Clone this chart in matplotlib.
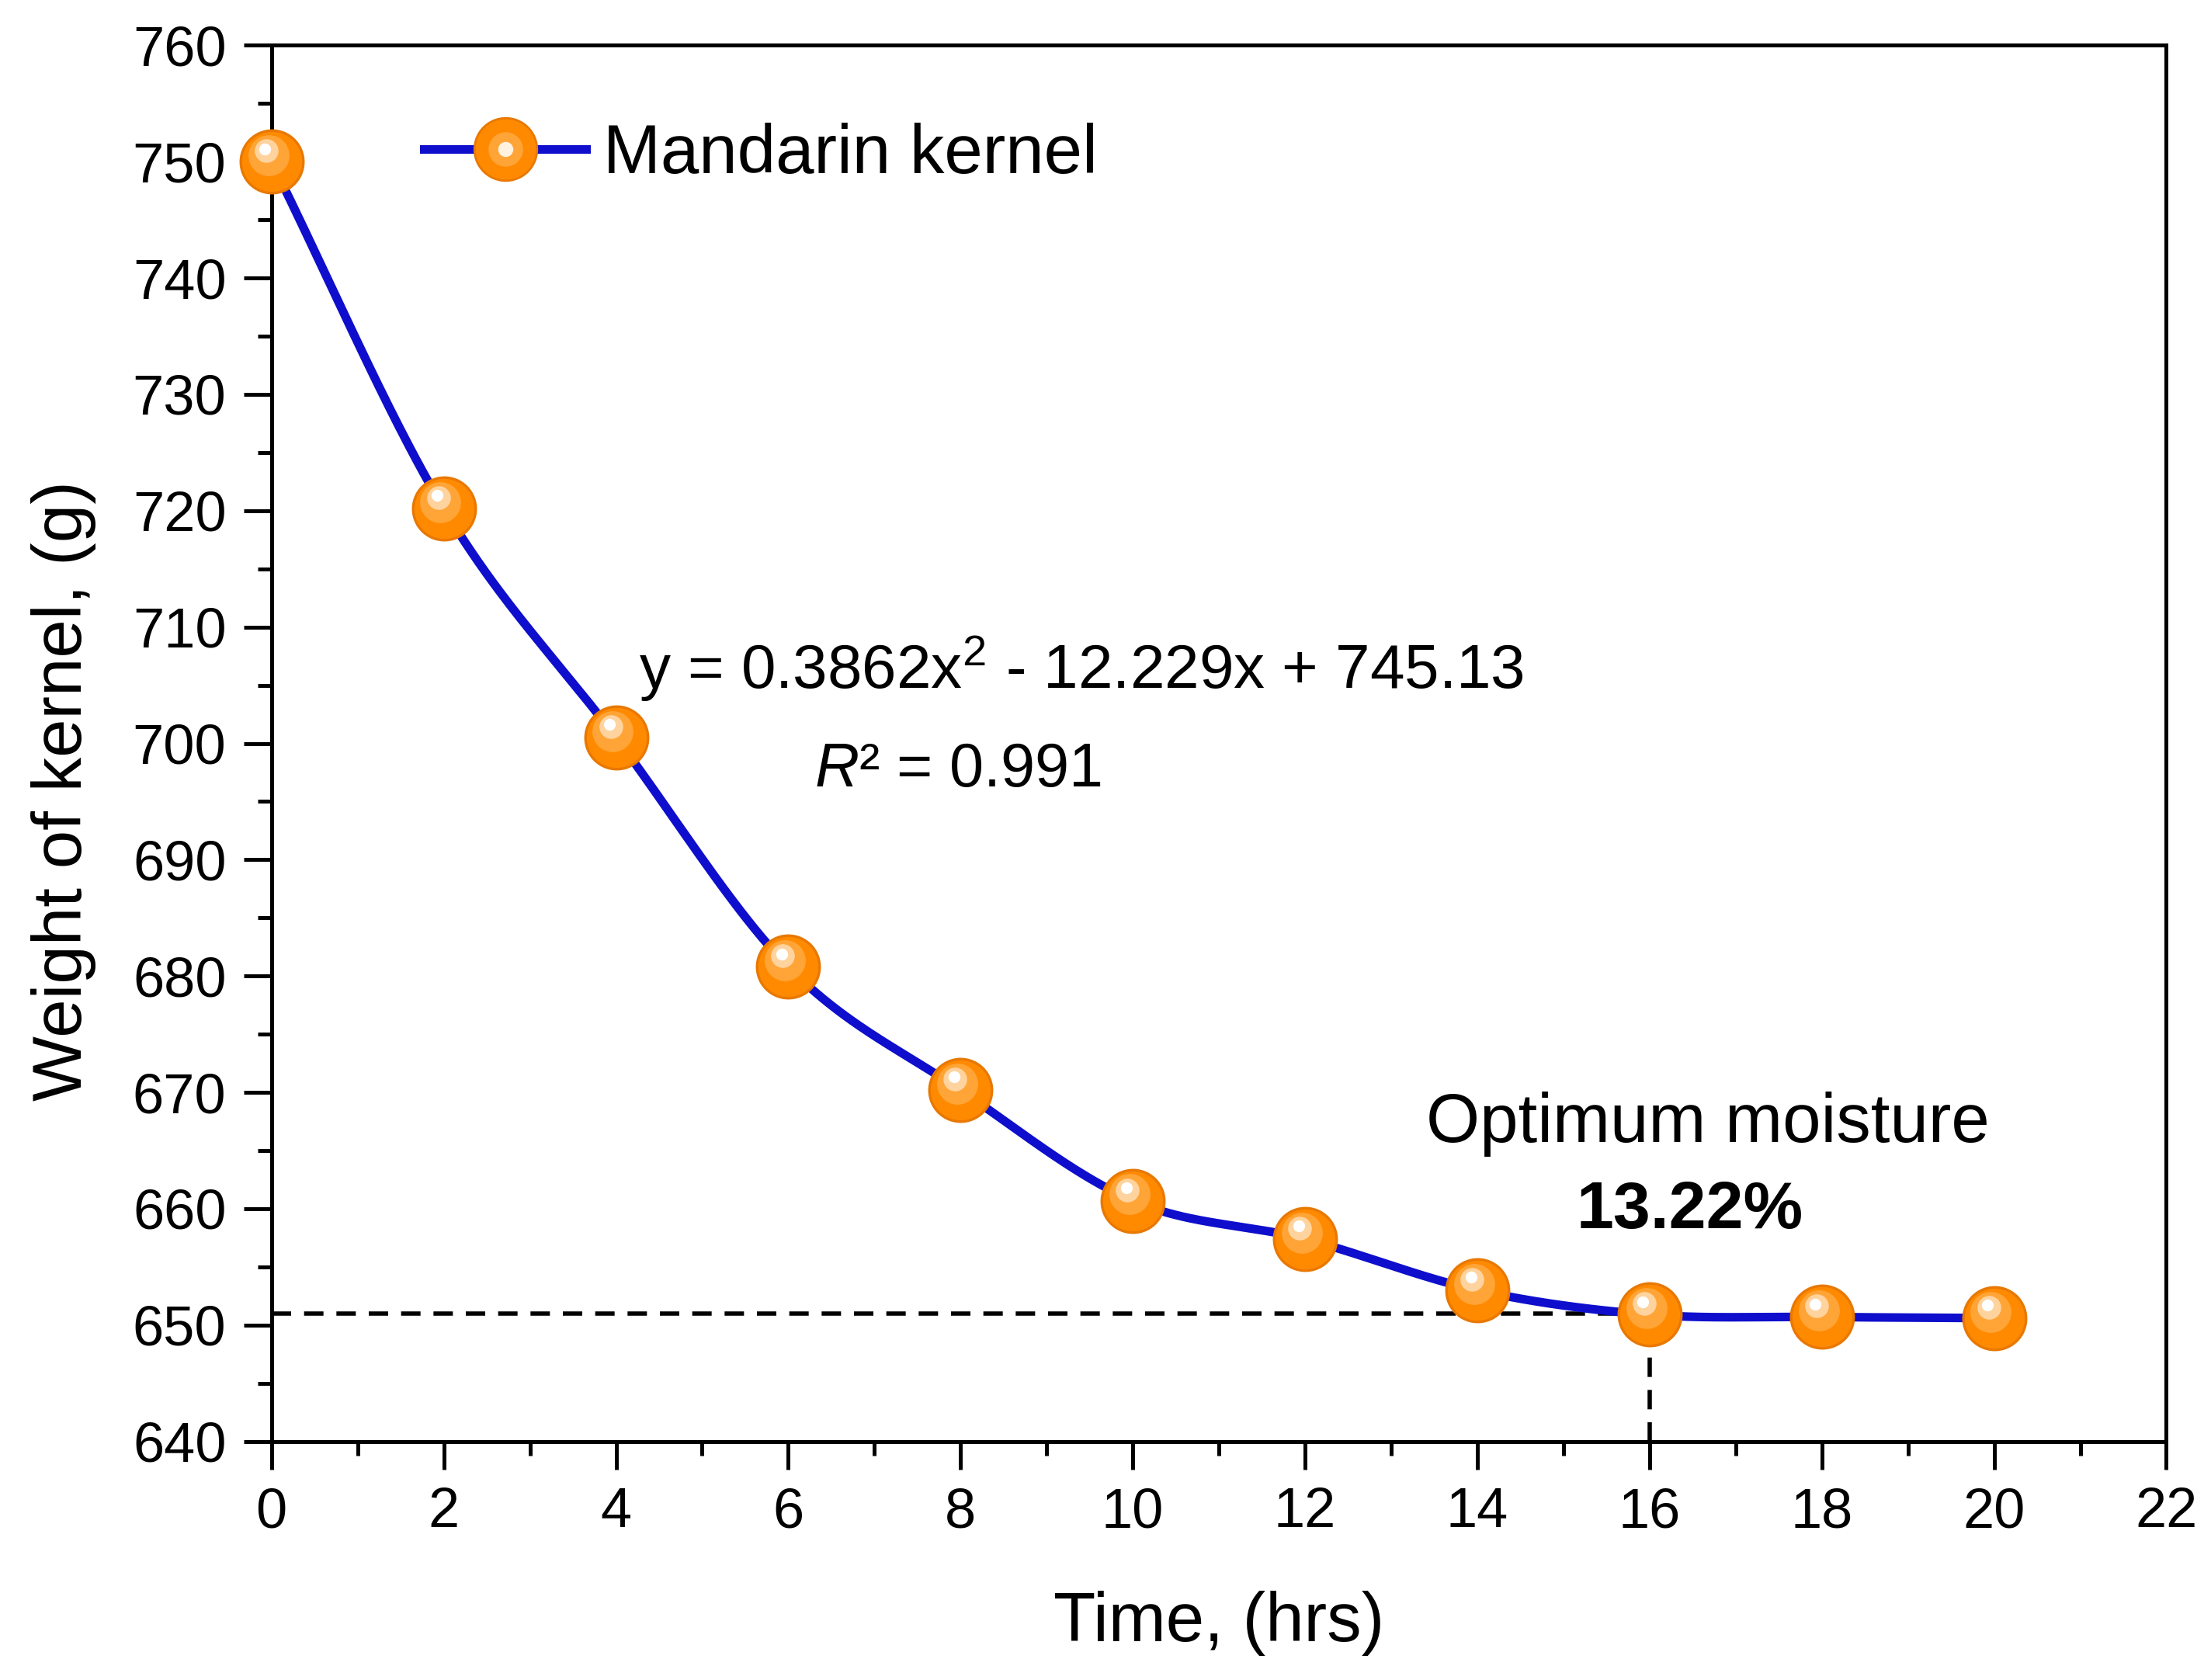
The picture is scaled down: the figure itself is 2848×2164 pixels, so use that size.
import numpy as np
import matplotlib
matplotlib.use("Agg")
import matplotlib.pyplot as plt
import matplotlib.transforms as mtransforms
from matplotlib.lines import Line2D
from matplotlib.ticker import MultipleLocator

plt.rcParams["font.family"] = ["Liberation Sans", "DejaVu Sans"]
plt.rcParams["mathtext.fontset"] = "custom"
plt.rcParams["mathtext.rm"] = "Liberation Sans"
plt.rcParams["mathtext.it"] = "Liberation Sans:italic"

# ── data ──────────────────────────────────────────────────────────────────────
time_hrs = [0, 2, 4, 6, 8, 10, 12, 14, 16, 18, 20]
weight_g = [750.0, 720.2, 700.5, 680.8, 670.2, 660.7, 657.4, 653.0, 650.9, 650.7, 650.6]
opt_time = 16
opt_weight = 651.0

C_LINE = "#0E0ECC"
C_BALL = "#FF8A00"
C_EDGE = "#E87800"


def smooth_line(x, y, xs):
    """Catmull-Rom style cubic hermite, only used to draw the smooth connecting line"""
    x = np.asarray(x, float); y = np.asarray(y, float)
    h = np.diff(x)
    m = np.empty_like(y)
    m[1:-1] = (y[2:] - y[:-2]) / (x[2:] - x[:-2])
    m[0] = (y[1] - y[0]) / h[0]
    m[-1] = (y[-1] - y[-2]) / h[-1]
    idx = np.clip(np.searchsorted(x, xs) - 1, 0, len(h) - 1)
    t = (xs - x[idx]) / h[idx]
    h00 = 2 * t**3 - 3 * t**2 + 1; h10 = t**3 - 2 * t**2 + t
    h01 = -2 * t**3 + 3 * t**2; h11 = t**3 - t**2
    return (h00 * y[idx] + h10 * h[idx] * m[idx] + h01 * y[idx + 1]
            + h11 * h[idx] * m[idx + 1])


fig = plt.figure(figsize=(14.24, 10.82), dpi=200)
ax = fig.add_axes([0.1228, 0.142, 0.857, 0.831])

# dashed guide lines at the optimum
ax.plot([0, opt_time], [opt_weight, opt_weight], ls=(0, (4.5, 3)), color="black", lw=2.0, zorder=2)
ax.plot([opt_time, opt_time], [640, opt_weight], ls=(0, (4.5, 3)), color="black", lw=2.0, zorder=2)

xs = np.linspace(time_hrs[0], time_hrs[-1], 500)
ax.plot(xs, smooth_line(time_hrs, weight_g, xs), color=C_LINE, lw=4.0, zorder=3,
        clip_on=False, solid_capstyle="round")

# "sphere" markers: base ball + lighter layers offset towards the top-left
MS = 29
ax.plot(time_hrs, weight_g, "o", ms=MS, mfc=C_BALL, mec=C_EDGE, mew=1.2, zorder=4, clip_on=False)
off1 = mtransforms.offset_copy(ax.transData, fig=fig, x=-1.5, y=3.0, units="points")
off2 = mtransforms.offset_copy(ax.transData, fig=fig, x=-2.5, y=5.0, units="points")
off3 = mtransforms.offset_copy(ax.transData, fig=fig, x=-3.0, y=6.0, units="points")
ax.plot(time_hrs, weight_g, "o", ms=19, mfc="#FFA436", mec="none", transform=off1, zorder=5, clip_on=False)
ax.plot(time_hrs, weight_g, "o", ms=11, mfc="#FFD39E", mec="none", transform=off2, zorder=6, clip_on=False)
ax.plot(time_hrs, weight_g, "o", ms=5.5, mfc="#FFFFFF", mec="none", transform=off3, zorder=7, clip_on=False)

ax.set_xlim(0, 22)
ax.set_ylim(640, 760)
ax.xaxis.set_major_locator(MultipleLocator(2))
ax.xaxis.set_minor_locator(MultipleLocator(1))
ax.yaxis.set_major_locator(MultipleLocator(10))
ax.yaxis.set_minor_locator(MultipleLocator(5))
ax.tick_params(which="major", direction="out", length=13, width=1.8, labelsize=26, pad=8,
               top=False, right=False)
ax.tick_params(which="minor", direction="out", length=6.5, width=1.8, top=False, right=False)
for s in ax.spines.values():
    s.set_linewidth(1.8)

ax.set_xlabel("Time, (hrs)", fontsize=32, labelpad=24)
ax.set_ylabel("Weight of kernel, (g)", fontsize=32)
ax.yaxis.set_label_coords(-0.0925, 0.466)

# legend
h_base = Line2D([], [], color=C_LINE, lw=4.0, marker="o", ms=MS, mfc=C_BALL, mec=C_EDGE)
h_mid = Line2D([], [], ls="none", marker="o", ms=16, mfc="#FFA436", mec="none")
h_hi = Line2D([], [], ls="none", marker="o", ms=7, mfc="#FFF2E0", mec="none")
ax.legend([(h_base, h_mid, h_hi)], ["Mandarin kernel"], loc="center left",
          bbox_to_anchor=(0.0805, 0.921), borderaxespad=0, borderpad=0,
          frameon=False, fontsize=32, handlelength=2.35, handletextpad=0.25)

ax.text(4.27, 706.4, "y = 0.3862x$^2$ - 12.229x + 745.13", fontsize=28.8, va="center", ha="left")
ax.text(6.3, 697.7, "$R$² = 0.991", fontsize=28.5, va="center", ha="left")
ax.text(16.68, 667.3, "Optimum moisture", fontsize=32, va="center", ha="center")
ax.text(16.47, 659.8, "13.22%", fontsize=31, fontweight="bold", va="center", ha="center")

fig.savefig("out.png", dpi=200)
